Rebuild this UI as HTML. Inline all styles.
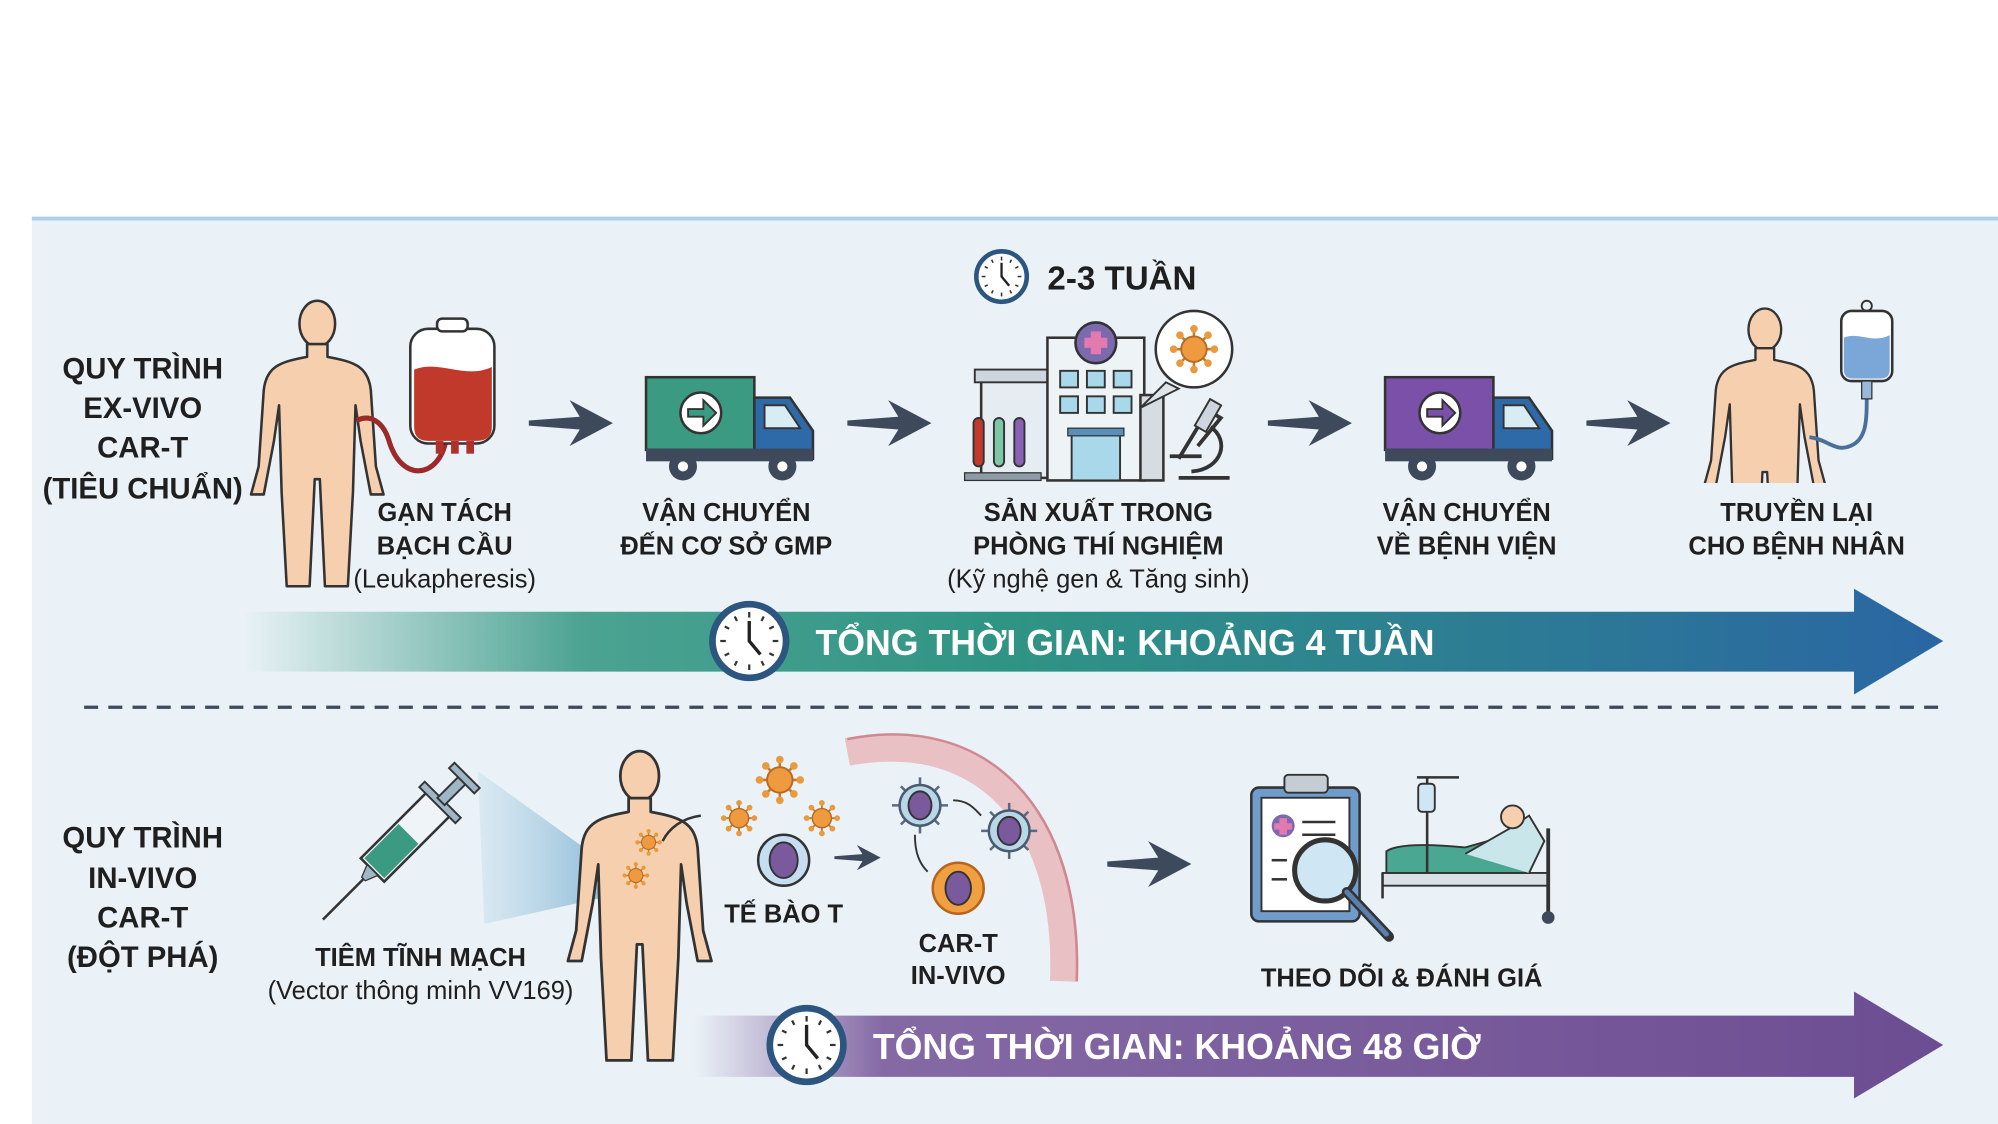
<!DOCTYPE html>
<html><head><meta charset="utf-8"><style>
html,body{margin:0;padding:0;background:#fff;}
svg{display:block;}
text{font-family:"Liberation Sans","DejaVu Sans",sans-serif;font-weight:bold;fill:#1f1f1f;}
.lbl{font-size:20px;text-anchor:middle;}
.sub{font-size:20px;font-weight:normal;text-anchor:middle;}
.side{font-size:23px;text-anchor:middle;}
</style></head><body>
<svg width="1998" height="1124" viewBox="0 0 1568 882" preserveAspectRatio="none" xmlns="http://www.w3.org/2000/svg">
<defs>
<linearGradient id="tg" x1="190" y1="0" x2="1525" y2="0" gradientUnits="userSpaceOnUse">
<stop offset="0" stop-color="#3a9a86" stop-opacity="0"/>
<stop offset="0.2" stop-color="#3a9a86" stop-opacity="0.9"/>
<stop offset="0.45" stop-color="#2f9484"/>
<stop offset="1" stop-color="#2a66a3"/>
</linearGradient>
<linearGradient id="pg" x1="545" y1="0" x2="1525" y2="0" gradientUnits="userSpaceOnUse">
<stop offset="0" stop-color="#7a5a9c" stop-opacity="0"/>
<stop offset="0.15" stop-color="#7a5a9c" stop-opacity="0.9"/>
<stop offset="1" stop-color="#6c4d92"/>
</linearGradient>
<linearGradient id="beam" x1="0" y1="0" x2="1" y2="0">
<stop offset="0" stop-color="#9cc6de" stop-opacity="0.2"/>
<stop offset="1" stop-color="#7fb3d3" stop-opacity="0.8"/>
</linearGradient>
<symbol id="human" viewBox="-60 0 120 230" overflow="visible">
<ellipse cx="0" cy="18" rx="14" ry="18" fill="#f6cfae" stroke="#333" stroke-width="2"/>
<path d="M-8,34 L-8,44 C-30,48 -40,52 -42,70 L-46,130 L-52,152 L-42,152 L-34,110 L-30,82 L-28,150 L-24,224 L-6,224 L-2,140 L2,140 L6,224 L24,224 L28,150 L30,82 L34,110 L42,152 L52,152 L46,130 L42,70 C40,52 30,48 8,44 L8,34 Z" fill="#f6cfae" stroke="#333" stroke-width="2" stroke-linejoin="round"/>
</symbol>
<symbol id="arr" viewBox="0 -20 66 40" overflow="visible">
<path d="M0,-2 L40,-5 L32,-18 L66,0 L32,18 L40,5 L0,2 Z" fill="#3e4a5c"/>
</symbol>
<symbol id="clock" viewBox="-40 -40 80 80" overflow="visible">
<circle r="33" fill="#fff" stroke="#2c5580" stroke-width="6"/>
<g stroke="#333" stroke-width="2">
<line x1="0" y1="-26" x2="0" y2="-21"/><line x1="0" y1="26" x2="0" y2="21"/><line x1="-26" y1="0" x2="-21" y2="0"/><line x1="26" y1="0" x2="21" y2="0"/>
<line x1="13" y1="-22" x2="11" y2="-18"/><line x1="22" y1="-13" x2="18" y2="-11"/><line x1="22" y1="13" x2="18" y2="11"/><line x1="13" y1="22" x2="11" y2="18"/>
<line x1="-13" y1="-22" x2="-11" y2="-18"/><line x1="-22" y1="-13" x2="-18" y2="-11"/><line x1="-22" y1="13" x2="-18" y2="11"/><line x1="-13" y1="22" x2="-11" y2="18"/>
</g>
<path d="M0,-18 L0,0 L10,12" stroke="#222" stroke-width="3" fill="none"/>
</symbol>
<symbol id="virus" viewBox="-20 -20 40 40" overflow="visible">
<g stroke="#c9772a" stroke-width="2">
<line x1="-16" y1="0" x2="16" y2="0"/><line x1="0" y1="-16" x2="0" y2="16"/><line x1="-11" y1="-11" x2="11" y2="11"/><line x1="-11" y1="11" x2="11" y2="-11"/>
</g>
<g fill="#e89a3c"><circle cx="-16" cy="0" r="3"/><circle cx="16" cy="0" r="3"/><circle cx="0" cy="-16" r="3"/><circle cx="0" cy="16" r="3"/><circle cx="-11" cy="-11" r="3"/><circle cx="11" cy="11" r="3"/><circle cx="-11" cy="11" r="3"/><circle cx="11" cy="-11" r="3"/></g>
<circle r="10" fill="#ef9a3e" stroke="#b86a22" stroke-width="1.5"/>
</symbol>
<symbol id="tcell" viewBox="-25 -25 50 50" overflow="visible">
<g stroke="#5a6a80" stroke-width="2"><line x1="-22" y1="0" x2="22" y2="0"/><line x1="0" y1="-22" x2="0" y2="22"/><line x1="-15" y1="-15" x2="15" y2="15"/><line x1="-15" y1="15" x2="15" y2="-15"/></g>
<circle r="16" fill="#b8d8e8" stroke="#4a5a70" stroke-width="2"/>
<ellipse rx="9" ry="11" fill="#7a5a9c" stroke="#333" stroke-width="1.5"/>
</symbol>
</defs>

<rect x="0" y="0" width="1568" height="882" fill="#fff"/>
<rect x="25" y="171" width="1543" height="711" fill="#eaf2f7"/>
<rect x="25" y="170" width="1543" height="3" fill="#a9d3e8"/>

<text class="side" x="112" y="297">QUY TRÌNH</text>
<text class="side" x="112" y="328">EX-VIVO</text>
<text class="side" x="112" y="359">CAR-T</text>
<text class="side" x="112" y="391">(TIÊU CHUẨN)</text>

<text class="side" x="112" y="665">QUY TRÌNH</text>
<text class="side" x="112" y="697">IN-VIVO</text>
<text class="side" x="112" y="728">CAR-T</text>
<text class="side" x="112" y="759">(ĐỘT PHÁ)</text>

<use href="#clock" x="762" y="193" width="48" height="48"/>
<text x="822" y="227" style="font-size:26px">2-3 TUẦN</text>

<use href="#human" x="189" y="236" width="120" height="230"/>
<path d="M280,330 C290,325 300,330 305,345 C315,380 345,375 350,345" fill="none" stroke="#9c2a2a" stroke-width="4"/>
<rect x="322" y="258" width="66" height="90" rx="14" fill="#fff" stroke="#333" stroke-width="2"/>
<rect x="343" y="250" width="24" height="10" rx="4" fill="#fff" stroke="#333" stroke-width="2"/>
<path d="M325,290 C345,282 365,298 386,288 L386,335 Q386,346 374,346 L336,346 Q325,346 325,335 Z" fill="#c0392b"/>
<rect x="342" y="346" width="6" height="10" fill="#b0302a"/><rect x="354" y="346" width="6" height="10" fill="#b0302a"/><rect x="366" y="346" width="6" height="10" fill="#b0302a"/>

<use href="#arr" x="415" y="312" width="66" height="40"/>

<rect x="507" y="296" width="85" height="57" fill="#3b9a82" stroke="#333" stroke-width="2"/>
<circle cx="550" cy="324" r="16" fill="#fff" stroke="#333" stroke-width="2"/>
<path d="M540,321 L552,321 L552,314 L562,324 L552,334 L552,327 L540,327 Z" fill="#3b9a82" stroke="#333" stroke-width="1.5"/>
<path d="M592,312 L620,312 L638,338 L638,360 L592,360 Z" fill="#2e6aa8" stroke="#333" stroke-width="2"/>
<path d="M600,318 L616,318 L628,336 L600,336 Z" fill="#d7ecf3" stroke="#333" stroke-width="1.5"/>
<rect x="507" y="352" width="131" height="10" fill="#3e4a5c"/>
<circle cx="536" cy="366" r="11" fill="#3e4a5c"/><circle cx="536" cy="366" r="4" fill="#fff"/>
<circle cx="614" cy="366" r="11" fill="#3e4a5c"/><circle cx="614" cy="366" r="4" fill="#fff"/>

<use href="#arr" x="665" y="312" width="66" height="40"/>

<rect x="770" y="295" width="60" height="80" fill="#e6edf2" stroke="#333" stroke-width="2"/>
<rect x="765" y="290" width="70" height="10" fill="#cdd6de" stroke="#333" stroke-width="1.5"/>
<rect x="822" y="265" width="76" height="112" fill="#eef3f6" stroke="#333" stroke-width="2"/>
<rect x="895" y="310" width="18" height="67" fill="#d5dde3" stroke="#333" stroke-width="2"/>
<circle cx="860" cy="269" r="16" fill="#7b6aae" stroke="#333" stroke-width="2"/>
<path d="M856,260 h8 v5 h5 v8 h-5 v5 h-8 v-5 h-5 v-8 h5 Z" fill="#e27ab0"/>
<g fill="#a9d8ea" stroke="#333" stroke-width="1.5">
<rect x="832" y="291" width="14" height="13"/><rect x="853" y="291" width="14" height="13"/><rect x="874" y="291" width="14" height="13"/>
<rect x="832" y="311" width="14" height="13"/><rect x="853" y="311" width="14" height="13"/><rect x="874" y="311" width="14" height="13"/>
<rect x="841" y="341" width="38" height="36"/></g>
<rect x="838" y="336" width="44" height="6" fill="#5a8fb8" stroke="#333" stroke-width="1"/>
<rect x="757" y="371" width="60" height="6" fill="#8e9aa6" stroke="#333" stroke-width="1"/>
<rect x="764" y="328" width="8" height="38" rx="4" fill="#c0392b" stroke="#333" stroke-width="1.5"/>
<rect x="780" y="328" width="8" height="38" rx="4" fill="#7bc7a6" stroke="#333" stroke-width="1.5"/>
<rect x="796" y="328" width="8" height="38" rx="4" fill="#8a62b5" stroke="#333" stroke-width="1.5"/>
<path d="M895,320 L915,300 L925,305 Z" fill="#dde5ea" stroke="#333" stroke-width="1.5"/>
<circle cx="937" cy="274" r="30" fill="#fff" stroke="#333" stroke-width="2"/>
<use href="#virus" x="917" y="254" width="40" height="40"/>
<path d="M925,360 L948,322 L958,328 L940,350 M935,370 C960,368 965,345 950,335 M918,358 h25 M925,375 h40" stroke="#333" stroke-width="3" fill="none"/>
<rect x="943" y="314" width="10" height="24" transform="rotate(30 948 326)" fill="#cdd6de" stroke="#333" stroke-width="1.5"/>

<use href="#arr" x="995" y="312" width="66" height="40"/>

<rect x="1087" y="296" width="85" height="57" fill="#7b50a8" stroke="#333" stroke-width="2"/>
<circle cx="1130" cy="324" r="16" fill="#fff" stroke="#333" stroke-width="2"/>
<path d="M1120,321 L1132,321 L1132,314 L1142,324 L1132,334 L1132,327 L1120,327 Z" fill="#7b50a8" stroke="#333" stroke-width="1.5"/>
<path d="M1172,312 L1200,312 L1218,338 L1218,360 L1172,360 Z" fill="#2e6aa8" stroke="#333" stroke-width="2"/>
<path d="M1180,318 L1196,318 L1208,336 L1180,336 Z" fill="#d7ecf3" stroke="#333" stroke-width="1.5"/>
<rect x="1087" y="352" width="131" height="10" fill="#3e4a5c"/>
<circle cx="1116" cy="366" r="11" fill="#3e4a5c"/><circle cx="1116" cy="366" r="4" fill="#fff"/>
<circle cx="1194" cy="366" r="11" fill="#3e4a5c"/><circle cx="1194" cy="366" r="4" fill="#fff"/>

<use href="#arr" x="1245" y="312" width="66" height="40"/>

<use href="#human" x="1330" y="235" width="110" height="225"/>
<rect x="1330" y="379" width="120" height="90" fill="#eaf2f7"/>
<path d="M1420,343 C1435,345 1440,355 1452,350 C1465,345 1465,330 1465,310" fill="none" stroke="#4a6f9a" stroke-width="3"/>
<rect x="1445" y="244" width="40" height="55" rx="8" fill="#fff" stroke="#333" stroke-width="2"/>
<path d="M1447,265 C1458,260 1470,270 1483,263 L1483,290 Q1483,297 1476,297 L1454,297 Q1447,297 1447,290 Z" fill="#7aa6d8"/>
<circle cx="1465" cy="240" r="4" fill="none" stroke="#333" stroke-width="1.5"/>
<rect x="1461" y="299" width="8" height="14" fill="#9ab8d8" stroke="#333" stroke-width="1"/>

<text class="lbl" x="349" y="409">GẠN TÁCH</text>
<text class="lbl" x="349" y="435">BẠCH CẦU</text>
<text class="sub" x="349" y="461">(Leukapheresis)</text>
<text class="lbl" x="570" y="409">VẬN CHUYỂN</text>
<text class="lbl" x="570" y="435">ĐẾN CƠ SỞ GMP</text>
<text class="lbl" x="862" y="409">SẢN XUẤT TRONG</text>
<text class="lbl" x="862" y="435">PHÒNG THÍ NGHIỆM</text>
<text class="sub" x="862" y="461">(Kỹ nghệ gen &amp; Tăng sinh)</text>
<text class="lbl" x="1151" y="409">VẬN CHUYỂN</text>
<text class="lbl" x="1151" y="435">VỀ BỆNH VIỆN</text>
<text class="lbl" x="1410" y="409">TRUYỀN LẠI</text>
<text class="lbl" x="1410" y="435">CHO BỆNH NHÂN</text>

<path d="M190,480 L1455,480 L1455,462 L1525,503 L1455,545 L1455,527 L190,527 Z" fill="url(#tg)"/>
<use href="#clock" x="553" y="468" width="70" height="70"/>
<text x="640" y="514" style="font-size:28px;fill:#fff">TỔNG THỜI GIAN: KHOẢNG 4 TUẦN</text>

<line x1="66" y1="555" x2="1525" y2="555" stroke="#3e4a5c" stroke-width="2.5" stroke-dasharray="11,8"/>

<path d="M375,605 L465,670 L470,705 L380,725 Z" fill="url(#beam)"/>
<g transform="rotate(45 310 665)">
<rect x="297" y="615" width="26" height="75" fill="#eef4f7" stroke="#333" stroke-width="2"/>
<rect x="299" y="650" width="22" height="38" fill="#3b9a82"/>
<rect x="290" y="612" width="40" height="6" fill="#9fb6c6" stroke="#333" stroke-width="1.5"/>
<rect x="306" y="590" width="8" height="24" fill="#9fb6c6" stroke="#333" stroke-width="1.5"/>
<rect x="296" y="585" width="28" height="6" fill="#9fb6c6" stroke="#333" stroke-width="1.5"/>
<path d="M304,690 L316,690 L312,700 L308,700 Z" fill="#9fb6c6" stroke="#333"/>
<line x1="310" y1="700" x2="310" y2="745" stroke="#333" stroke-width="2"/>
</g>
<text class="lbl" x="330" y="758">TIÊM TĨNH MẠCH</text>
<text class="sub" x="330" y="784">(Vector thông minh VV169)</text>

<use href="#human" x="437" y="588" width="130" height="252"/>
<use href="#virus" x="498" y="650" width="22" height="22"/>
<use href="#virus" x="488" y="676" width="22" height="22"/>
<path d="M550,640 C535,642 525,650 520,660" fill="none" stroke="#333" stroke-width="2"/>

<use href="#virus" x="592" y="592" width="40" height="40"/>
<use href="#virus" x="565" y="627" width="30" height="30"/>
<use href="#virus" x="630" y="627" width="30" height="30"/>
<circle cx="615" cy="675" r="20" fill="#c5dff0" stroke="#333" stroke-width="2"/>
<ellipse cx="615" cy="675" rx="11" ry="14" fill="#7a5a9c" stroke="#333" stroke-width="1.5"/>
<text class="lbl" x="615" y="724">TẾ BÀO T</text>
<use href="#arr" x="650" y="662" width="46" height="22"/>

<path d="M665,590 C770,570 840,640 835,770" fill="none" stroke="#e8b4b8" stroke-width="22" opacity="0.8"/>
<path d="M665,580 C775,558 850,635 845,770" fill="none" stroke="#c0606a" stroke-width="2" opacity="0.6"/>
<use href="#tcell" x="697" y="607" width="50" height="50"/>
<use href="#tcell" x="767" y="627" width="50" height="50"/>
<circle cx="752" cy="697" r="20" fill="#f0a040" stroke="#b8641e" stroke-width="2"/>
<ellipse cx="752" cy="697" rx="10" ry="13" fill="#7a5a9c" stroke="#333" stroke-width="1.5"/>
<g stroke="#333" stroke-width="1.5" fill="none"><path d="M748,628 C760,628 765,635 770,640"/><path d="M718,655 C718,670 722,678 728,684"/></g>
<text class="lbl" x="752" y="747">CAR-T</text>
<text class="lbl" x="752" y="772">IN-VIVO</text>

<use href="#arr" x="868" y="658" width="68" height="40"/>

<rect x="982" y="618" width="85" height="105" rx="6" fill="#6f9ccb" stroke="#333" stroke-width="2"/>
<rect x="990" y="626" width="69" height="89" fill="#fff" stroke="#333" stroke-width="1.5"/>
<rect x="1008" y="608" width="34" height="14" rx="3" fill="#c5ccd3" stroke="#333" stroke-width="1.5"/>
<circle cx="1007" cy="648" r="9" fill="#7b6aae"/><path d="M1004,642 h6 v4 h4 v5 h-4 v4 h-6 v-4 h-4 v-5 h4 Z" fill="#e27ab0"/>
<g stroke="#333" stroke-width="2"><line x1="1022" y1="645" x2="1048" y2="645"/><line x1="1022" y1="655" x2="1048" y2="655"/><line x1="998" y1="675" x2="1010" y2="675"/><line x1="998" y1="690" x2="1010" y2="690"/></g>
<circle cx="1040" cy="683" r="24" fill="#cfe6f4" stroke="#333" stroke-width="4"/>
<line x1="1057" y1="700" x2="1090" y2="735" stroke="#333" stroke-width="8" stroke-linecap="round"/>
<line x1="1057" y1="700" x2="1088" y2="733" stroke="#5a7fae" stroke-width="4" stroke-linecap="round"/>
<rect x="1085" y="685" width="130" height="10" fill="#d9e1e6" stroke="#333" stroke-width="1.5"/>
<path d="M1088,685 L1088,668 Q1100,660 1150,665 L1185,655 L1200,685 Z" fill="#4aa892" stroke="#333" stroke-width="1.5"/>
<path d="M1150,670 L1185,650 L1200,640 L1212,660 L1200,685" fill="#c9e6ea" stroke="#333" stroke-width="1.5"/>
<circle cx="1187" cy="641" r="9" fill="#f6cfae" stroke="#333" stroke-width="1.5"/>
<line x1="1215" y1="650" x2="1215" y2="718" stroke="#333" stroke-width="3"/>
<circle cx="1215" cy="720" r="5" fill="#3e4a5c"/>
<line x1="1085" y1="685" x2="1085" y2="705" stroke="#333" stroke-width="2"/>
<line x1="1120" y1="610" x2="1120" y2="685" stroke="#333" stroke-width="2"/>
<line x1="1112" y1="610" x2="1145" y2="610" stroke="#333" stroke-width="2"/>
<rect x="1113" y="615" width="13" height="22" rx="3" fill="#cfe6f4" stroke="#333" stroke-width="1.5"/>
<text class="lbl" x="1100" y="774">THEO DÕI &amp; ĐÁNH GIÁ</text>

<path d="M545,797 L1455,797 L1455,778 L1525,820 L1455,862 L1455,845 L545,845 Z" fill="url(#pg)"/>
<use href="#clock" x="598" y="785" width="70" height="70"/>
<text x="685" y="831" style="font-size:28px;fill:#fff">TỔNG THỜI GIAN: KHOẢNG 48 GIỜ</text>
</svg>
</body></html>
